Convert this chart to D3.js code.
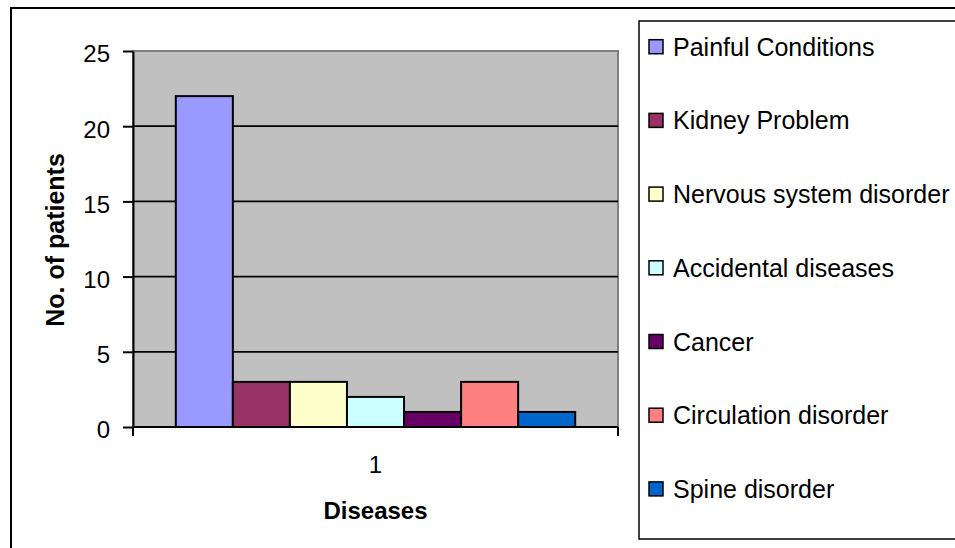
<!DOCTYPE html>
<html lang="en">
<head>
  <meta charset="UTF-8">
  <title>Diseases</title>
  <style>
    body { margin: 0; background: #fff; }
    svg text { font-family: "Liberation Sans", Arial, sans-serif; fill: #000; }
    .tick-label { font-size: 24px; }
    .axis-title { font-size: 24px; font-weight: bold; }
    .y-title { font-size: 25px; }
    .legend-text { font-size: 25px; }
  </style>
</head>
<body>
  <div id="chart"></div>
  <script src="https://cdn.jsdelivr.net/npm/d3@7"></script>
  <script>
    // data
    var categories = ['1'];
    var seriesNames = ['Painful Conditions', 'Kidney Problem', 'Nervous system disorder',
      'Accidental diseases', 'Cancer', 'Circulation disorder', 'Spine disorder'];
    var seriesValues = [22, 3, 3, 2, 1, 3, 1];
    var seriesColors = ['#9999ff', '#993366', '#ffffcc', '#ccffff', '#660066', '#ff8080', '#0066cc'];
    var yTicks = [0, 5, 10, 15, 20, 25];

    var W = 955, H = 548;
    var plot = { left: 133, right: 618, top: 51, bottom: 427 };

    var svg = d3.select('#chart').append('svg')
      .attr('width', W)
      .attr('height', H);

    // outer chart border (runs off the right / bottom edge)
    svg.append('rect')
      .attr('x', 11).attr('y', 8)
      .attr('width', 1000).attr('height', 600)
      .attr('fill', '#fff')
      .attr('stroke', '#000')
      .attr('stroke-width', 2);

    var y = d3.scaleLinear().domain([0, 25]).range([plot.bottom, plot.top]);
    var x0 = d3.scaleBand().domain(categories).range([plot.left, plot.right]);
    // excel gap width 150% -> 0.75 bar on each side
    var x1 = d3.scaleBand().domain(seriesNames).range([0, x0.bandwidth()])
      .paddingInner(0).paddingOuter(0.75);

    // plot area
    svg.append('rect')
      .attr('x', plot.left).attr('y', plot.top)
      .attr('width', plot.right - plot.left)
      .attr('height', plot.bottom - plot.top)
      .attr('fill', '#c0c0c0')
      .attr('stroke', '#808080')
      .attr('stroke-width', 2);

    // gridlines
    svg.append('g').selectAll('line')
      .data(yTicks.filter(function (d) { return d > 0 && d < 25; }))
      .enter().append('line')
      .attr('x1', plot.left).attr('x2', plot.right)
      .attr('y1', function (d) { return y(d); })
      .attr('y2', function (d) { return y(d); })
      .attr('stroke', '#000')
      .attr('stroke-width', 1.8);

    // bars
    svg.append('g').selectAll('rect')
      .data(seriesNames.map(function (name, i) {
        return { name: name, value: seriesValues[i], color: seriesColors[i], cat: categories[0] };
      }))
      .enter().append('rect')
      .attr('x', function (d) { return x0(d.cat) + x1(d.name); })
      .attr('y', function (d) { return y(d.value); })
      .attr('width', x1.bandwidth())
      .attr('height', function (d) { return y(0) - y(d.value); })
      .attr('fill', function (d) { return d.color; })
      .attr('stroke', '#000')
      .attr('stroke-width', 2);

    // y axis
    var yAxis = svg.append('g')
      .attr('transform', 'translate(' + plot.left + ',0)')
      .call(d3.axisLeft(y).tickValues(yTicks).tickSize(10).tickPadding(13).tickSizeOuter(0));
    yAxis.select('.domain').attr('stroke', '#000').attr('stroke-width', 2);
    yAxis.selectAll('.tick line').attr('stroke', '#000').attr('stroke-width', 2);
    yAxis.selectAll('.tick text')
      .attr('class', 'tick-label')
      .attr('dy', '0.45em');

    // x axis
    var xAxis = svg.append('g')
      .attr('transform', 'translate(0,' + plot.bottom + ')');
    xAxis.append('line')
      .attr('x1', plot.left).attr('x2', plot.right)
      .attr('stroke', '#000').attr('stroke-width', 2);
    xAxis.selectAll('line.edge')
      .data(x0.range())
      .enter().append('line')
      .attr('class', 'edge')
      .attr('x1', function (d) { return d; })
      .attr('x2', function (d) { return d; })
      .attr('y1', 0).attr('y2', 9)
      .attr('stroke', '#000').attr('stroke-width', 2);
    xAxis.selectAll('text')
      .data(categories)
      .enter().append('text')
      .attr('class', 'tick-label')
      .attr('x', function (d) { return x0(d) + x0.bandwidth() / 2; })
      .attr('y', 46)
      .attr('text-anchor', 'middle')
      .text(function (d) { return d; });

    // axis titles
    svg.append('text')
      .attr('class', 'axis-title')
      .attr('x', (plot.left + plot.right) / 2)
      .attr('y', 519)
      .attr('text-anchor', 'middle')
      .text('Diseases');
    svg.append('text')
      .attr('class', 'axis-title y-title')
      .attr('transform', 'translate(64,' + ((plot.top + plot.bottom) / 2 + 1) + ') rotate(-90)')
      .attr('text-anchor', 'middle')
      .text('No. of patients');

    // legend
    var legend = svg.append('g');
    legend.append('rect')
      .attr('x', 639).attr('y', 21)
      .attr('width', 400).attr('height', 518)
      .attr('fill', '#fff')
      .attr('stroke', '#000')
      .attr('stroke-width', 1.5);
    var item = legend.selectAll('g.item')
      .data(seriesNames)
      .enter().append('g')
      .attr('class', 'item')
      .attr('transform', function (d, i) { return 'translate(649,' + (46.7 + i * 73.7) + ')'; });
    item.append('rect')
      .attr('x', 0).attr('y', -7)
      .attr('width', 14).attr('height', 14)
      .attr('fill', function (d, i) { return seriesColors[i]; })
      .attr('stroke', '#000')
      .attr('stroke-width', 1.5);
    item.append('text')
      .attr('class', 'legend-text')
      .attr('x', 24)
      .attr('y', 9)
      .text(function (d) { return d; });
  </script>
</body>
</html>
